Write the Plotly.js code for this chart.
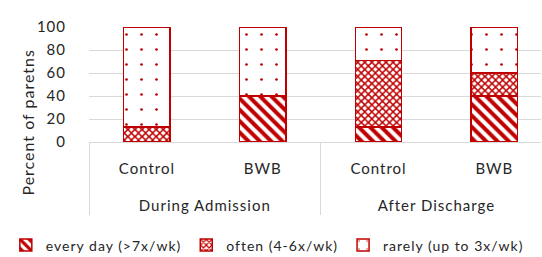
<!DOCTYPE html>
<html>
<head>
<meta charset="utf-8">
<script src="https://cdn.plot.ly/plotly-3.0.1.min.js"></script>
<style>
html,body{margin:0;padding:0;background:#fff;}
#chart{width:542px;height:257px;}
svg text{letter-spacing:1px;}
</style>
</head>
<body>
<div id="chart"></div>
<script>
const periods = ["During Admission", "During Admission", "After Discharge", "After Discharge"];
const groups = ["Control", "BWB", "Control", "BWB"];
const everyDay = [0, 40, 13, 40];
const often = [13, 0, 58, 20];
const rarely = [87, 60, 29, 40];
const seriesNames = ["every day (>7x/wk)", "often (4-6x/wk)", "rarely (up to 3x/wk)"];
const yTicks = [0, 20, 40, 60, 80, 100];
const yTitle = "Percent of paretns";

const red = "#C00000";
const FONT = "Lato, 'Open Sans', sans-serif";

// invisible tall padding makes the inner category level taller, pushing the outer level lower
const pad = '<span style="font-size:40px">\u00a0</span>';
const groupLabels = groups.map(g => pad + g + pad);

function mk(name, vals, shape, size, solidity) {
  return {
    type: "bar",
    name: name,
    x: [periods, groupLabels],
    y: vals,
    width: 0.4,
    marker: {
      color: "#ffffff",
      line: {color: red, width: 1.5},
      pattern: {shape: shape, fgcolor: red, bgcolor: "#ffffff", size: size, solidity: solidity, fillmode: "replace"}
    },
    hoverinfo: "skip"
  };
}

const data = [
  mk(seriesNames[0], everyDay, "\\", 8, 0.5),
  mk(seriesNames[1], often, "x", 5, 0.5),
  mk(seriesNames[2], rarely, ".", 15, 0.025)
];

const layout = {
  width: 542, height: 257,
  margin: {l: 89, r: 1, t: 27, b: 115, autoexpand: false},
  barmode: "stack",
  paper_bgcolor: "#fff", plot_bgcolor: "#fff",
  font: {family: FONT, size: 15, color: "#262626"},
  showlegend: true,
  legend: {orientation: "h", x: -0.184, xanchor: "left", y: -0.9, yanchor: "middle",
           font: {size: 14}, itemwidth: 30, traceorder: "normal", bgcolor: "rgba(0,0,0,0)"},
  xaxis: {
    type: "multicategory",
    range: [-0.5, 3.403],
    showgrid: false,
    showline: true, linecolor: "#d9d9d9", linewidth: 1,
    showdividers: true, dividercolor: "#d9d9d9", dividerwidth: 1,
    ticks: "", tickfont: {size: 15},
    ticklabelstandoff: 13,
    zeroline: false
  },
  yaxis: {
    range: [0, 100],
    tickvals: yTicks,
    showgrid: true, gridcolor: "#d9d9d9", gridwidth: 1,
    zeroline: false, showline: false,
    ticks: "", ticklabelstandoff: 22,
    tickfont: {size: 15}
  },
  annotations: [{
    text: yTitle, textangle: -90,
    xref: "paper", yref: "paper", x: -0.137, y: 0.17,
    xanchor: "center", yanchor: "middle", showarrow: false,
    font: {size: 16}
  }]
};

Plotly.newPlot("chart", data, layout, {staticPlot: true, displayModeBar: false});
</script>
</body>
</html>
